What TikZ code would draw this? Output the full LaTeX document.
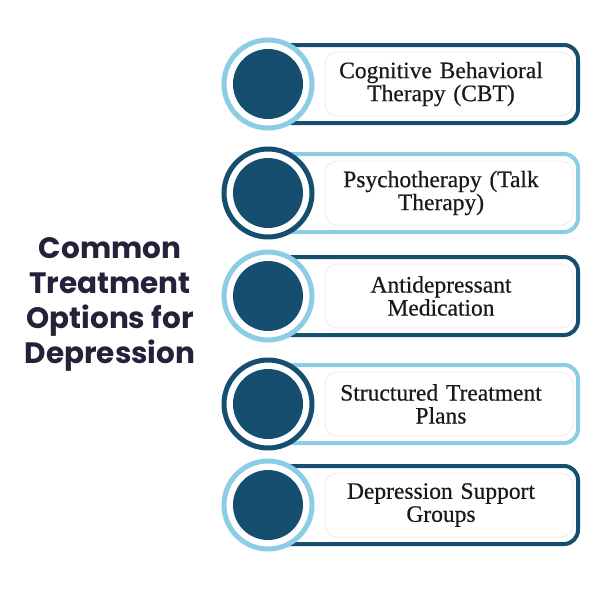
\documentclass[tikz,border=0pt]{standalone}
\usepackage{fontspec}
\setmainfont{Liberation Serif}
\newfontfamily\lblfont{Liberation Serif}[FakeBold=0.5]
\newfontfamily\titlefont{Poppins}
\begin{document}
\definecolor{dk}{HTML}{154E6E}
\definecolor{lt}{HTML}{8ACDE5}
\definecolor{ttl}{HTML}{22223A}
\begin{tikzpicture}[x=1pt,y=-1pt,
  frame/.style={line width=4pt,rounded corners=14pt,fill=white},
  inbox/.style={draw=black!8,line width=0.8pt,rounded corners=12pt,fill=white},
  ring/.style={circle,minimum size=88pt,line width=5pt,fill=white,inner sep=0pt},
  disk/.style={circle,minimum size=70pt,fill=dk,inner sep=0pt},
  lbl/.style={font=\lblfont\fontsize{23.5}{23}\selectfont,align=center,text width=250pt,text=black!90}]
\useasboundingbox (0,0) rectangle (600,600);
\node[font=\titlefont\bfseries\fontsize{29.5}{35}\selectfont,text=ttl,align=center] (title) at (110,304) {Common\\Treatment\\Options for\\Depression};
\foreach \i/\y/\fc/\rc/\t in {1/84/dk/lt/{Cognitive Behavioral\\Therapy (CBT)},2/193/lt/dk/{Psychotherapy (Talk\\Therapy)},3/296/dk/lt/{Antidepressant\\Medication},4/404/lt/dk/{Structured Treatment\\Plans},5/505/dk/lt/{Depression Support\\Groups}}{
  \draw[frame,draw=\fc] (245,\y-39) rectangle (578,\y+39);
  \draw[inbox] (325,\y-32) rectangle (573,\y+32);
  \node[ring,draw=\rc] (r\i) at (268,\y) {};
  \node[disk] (d\i) at (r\i) {};
  \node[lbl] (t\i) at (441,\y) {\t};
}
\end{tikzpicture}
\end{document}
